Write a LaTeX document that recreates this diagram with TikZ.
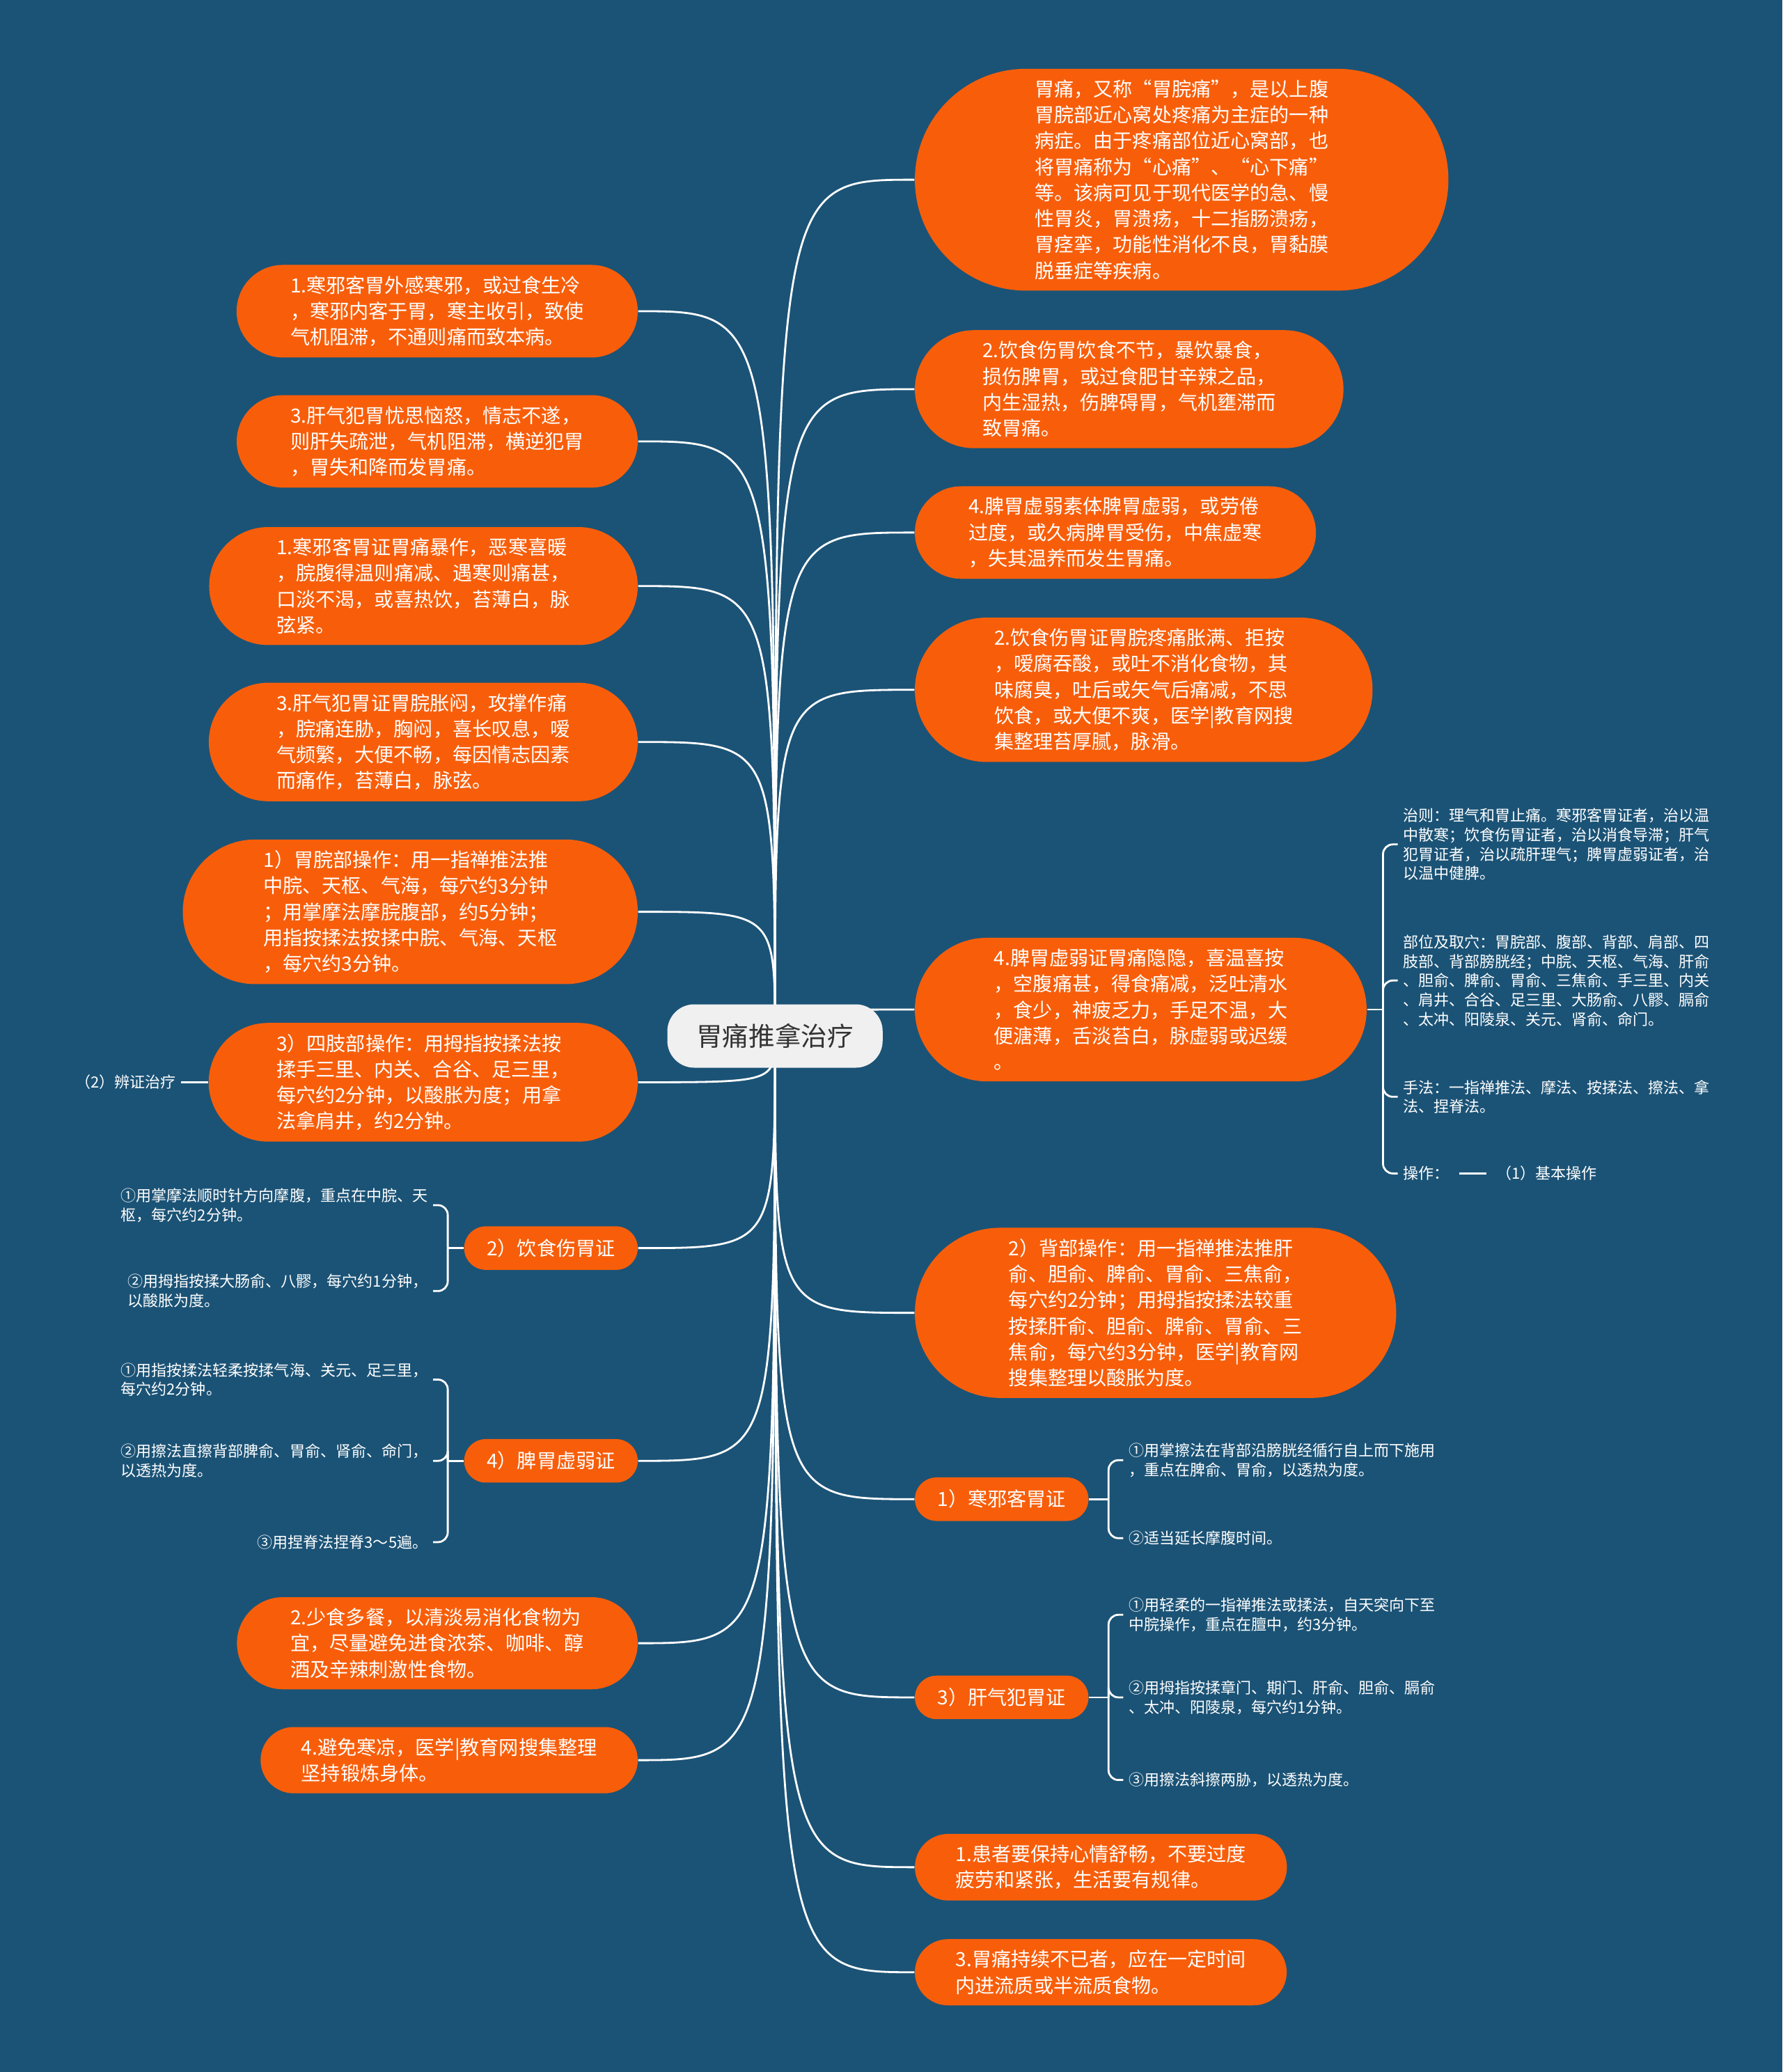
\documentclass[tikz,border=0pt]{standalone}
\usepackage{fontspec}
\setmainfont{Noto Sans CJK SC}
\usetikzlibrary{positioning, shapes.misc, backgrounds}

\definecolor{mapblue}{HTML}{1B5376}
\definecolor{maporange}{HTML}{F85E0A}
\definecolor{rootgray}{HTML}{F0F0F0}
\definecolor{rootink}{HTML}{333333}

\begin{document}
\begin{tikzpicture}[
    x=0.018977cm, y=-0.018977cm,
    root/.style={rectangle, rounded corners=11pt, fill=rootgray, text=rootink,
        font=\fontsize{10.7}{13}\selectfont, minimum width=88pt, minimum height=25.9pt},
    bubble/.style={rounded rectangle, fill=maporange, text=white, align=left,
        font=\fontsize{8}{10.6}\selectfont, inner xsep=#1, inner ysep=4.5pt},
    bubble/.default=15.3pt,
    topic/.style={bubble=8.4pt, minimum height=17.8pt},
    leaf/.style={text=white, align=left, font=\fontsize{6.27}{7.9}\selectfont,
        inner xsep=2pt, inner ysep=1pt},
    link/.style={draw=white, line width=0.8pt},
    fork/.style={link, rounded corners=4pt}
]
\useasboundingbox (0,0) rectangle (1349,1568);

\node[root] (root) at (586.5,784) {胃痛推拿治疗};

\node[bubble, anchor=east] (l1) at (483,235.5) {1.寒邪客胃外感寒邪，或过食生冷\\，寒邪内客于胃，寒主收引，致使\\气机阻滞，不通则痛而致本病。};
\node[bubble, anchor=east] (l2) at (483,334) {3.肝气犯胃忧思恼怒，情志不遂，\\则肝失疏泄，气机阻滞，横逆犯胃\\，胃失和降而发胃痛。};
\node[bubble=17.5pt, anchor=east] (l3) at (483,443.5) {1.寒邪客胃证胃痛暴作，恶寒喜暖\\，脘腹得温则痛减、遇寒则痛甚，\\口淡不渴，或喜热饮，苔薄白，脉\\弦紧。};
\node[bubble=17.5pt, anchor=east] (l4) at (483,561.5) {3.肝气犯胃证胃脘胀闷，攻撑作痛\\，脘痛连胁，胸闷，喜长叹息，嗳\\气频繁，大便不畅，每因情志因素\\而痛作，苔薄白，脉弦。};
\node[bubble=19.1pt, anchor=east] (l5) at (483,690) {1）胃脘部操作：用一指禅推法推\\中脘、天枢、气海，每穴约3分钟\\；用掌摩法摩脘腹部，约5分钟；\\用指按揉法按揉中脘、气海、天枢\\，每穴约3分钟。};
\node[bubble=17.5pt, anchor=east] (l6) at (483,819) {3）四肢部操作：用拇指按揉法按\\揉手三里、内关、合谷、足三里，\\每穴约2分钟，以酸胀为度；用拿\\法拿肩井，约2分钟。};
\node[topic, anchor=east] (l7) at (483,944.5) {2）饮食伤胃证};
\node[topic, anchor=east] (l8) at (483,1105.5) {4）脾胃虚弱证};
\node[bubble, anchor=east] (l9) at (483,1243.5) {2.少食多餐，以清淡易消化食物为\\宜，尽量避免进食浓茶、咖啡、醇\\酒及辛辣刺激性食物。};
\node[bubble=13.2pt, anchor=east] (l10) at (483,1332) {4.避免寒凉，医学|教育网搜集整理\\坚持锻炼身体。};

\node[bubble=23.4pt, anchor=west] (r1) at (692,136) {胃痛，又称“胃脘痛”，是以上腹\\胃脘部近心窝处疼痛为主症的一种\\病症。由于疼痛部位近心窝部，也\\将胃痛称为“心痛”、“心下痛”\\等。该病可见于现代医学的急、慢\\性胃炎，胃溃疡，十二指肠溃疡，\\胃痉挛，功能性消化不良，胃黏膜\\脱垂症等疾病。};
\node[bubble=17.5pt, anchor=west] (r2) at (692,294.5) {2.饮食伤胃饮食不节，暴饮暴食，\\损伤脾胃，或过食肥甘辛辣之品，\\内生湿热，伤脾碍胃，气机壅滞而\\致胃痛。};
\node[bubble, anchor=west] (r3) at (692,403) {4.脾胃虚弱素体脾胃虚弱，或劳倦\\过度，或久病脾胃受伤，中焦虚寒\\，失其温养而发生胃痛。};
\node[bubble=18.6pt, anchor=west] (r4) at (692,522) {2.饮食伤胃证胃脘疼痛胀满、拒按\\，嗳腐吞酸，或吐不消化食物，其\\味腐臭，吐后或矢气后痛减，不思\\饮食，或大便不爽，医学|教育网搜\\集整理苔厚腻，脉滑。};
\node[bubble=18.6pt, anchor=west] (r5) at (692,764) {4.脾胃虚弱证胃痛隐隐，喜温喜按\\，空腹痛甚，得食痛减，泛吐清水\\，食少，神疲乏力，手足不温，大\\便溏薄，舌淡苔白，脉虚弱或迟缓\\。};
\node[bubble=20.7pt, anchor=west] (r6) at (692,993.5) {2）背部操作：用一指禅推法推肝\\俞、胆俞、脾俞、胃俞、三焦俞，\\每穴约2分钟；用拇指按揉法较重\\按揉肝俞、胆俞、脾俞、胃俞、三\\焦俞，每穴约3分钟，医学|教育网\\搜集整理以酸胀为度。};
\node[topic, anchor=west] (r7) at (692,1134.5) {1）寒邪客胃证};
\node[topic, anchor=west] (r8) at (692,1284.5) {3）肝气犯胃证};
\node[bubble=13.2pt, anchor=west] (r9) at (692,1413) {1.患者要保持心情舒畅，不要过度\\疲劳和紧张，生活要有规律。};
\node[bubble=13.2pt, anchor=west] (r10) at (692,1492.5) {3.胃痛持续不已者，应在一定时间\\内进流质或半流质食物。};

\node[leaf, left=11pt of l6] (diag) {（2）辨证治疗};

\coordinate (j7) at ([xshift=-6.5pt]l7.west);
\node[leaf, anchor=east, xshift=-6pt] (l7a) at (j7 |- 0,912) {①用掌摩法顺时针方向摩腹，重点在中脘、天\\枢，每穴约2分钟。};
\node[leaf, anchor=east, xshift=-6pt] (l7b) at (j7 |- 0,977) {②用拇指按揉大肠俞、八髎，每穴约1分钟，\\以酸胀为度。};

\coordinate (j8) at ([xshift=-6.5pt]l8.west);
\node[leaf, anchor=east, xshift=-6pt] (l8a) at (j8 |- 0,1044) {①用指按揉法轻柔按揉气海、关元、足三里，\\每穴约2分钟。};
\node[leaf, anchor=east, xshift=-6pt] (l8b) at (j8 |- 0,1105.5) {②用擦法直擦背部脾俞、胃俞、肾俞、命门，\\以透热为度。};
\node[leaf, anchor=east, xshift=-6pt] (l8c) at (j8 |- 0,1167) {③用捏脊法捏脊3～5遍。};

\coordinate (j5) at ([xshift=6.5pt]r5.east);
\node[leaf, anchor=west, xshift=6pt] (rule) at (j5 |- 0,639) {治则：理气和胃止痛。寒邪客胃证者，治以温\\中散寒；饮食伤胃证者，治以消食导滞；肝气\\犯胃证者，治以疏肝理气；脾胃虚弱证者，治\\以温中健脾。};
\node[leaf, anchor=west, xshift=6pt] (acu) at (j5 |- 0,742) {部位及取穴：胃脘部、腹部、背部、肩部、四\\肢部、背部膀胱经；中脘、天枢、气海、肝俞\\、胆俞、脾俞、胃俞、三焦俞、手三里、内关\\、肩井、合谷、足三里、大肠俞、八髎、膈俞\\、太冲、阳陵泉、关元、肾俞、命门。};
\node[leaf, anchor=west, xshift=6pt] (tech) at (j5 |- 0,830) {手法：一指禅推法、摩法、按揉法、擦法、拿\\法、捏脊法。};
\node[leaf, anchor=west, xshift=6pt] (op) at (j5 |- 0,888) {操作：};
\node[leaf, right=15pt of op] (basic) {（1）基本操作};

\coordinate (j7r) at ([xshift=8pt]r7.east);
\node[leaf, anchor=west, xshift=6pt] (r7a) at (j7r |- 0,1105) {①用掌擦法在背部沿膀胱经循行自上而下施用\\，重点在脾俞、胃俞，以透热为度。};
\node[leaf, anchor=west, xshift=6pt] (r7b) at (j7r |- 0,1164) {②适当延长摩腹时间。};

\coordinate (j8r) at ([xshift=8pt]r8.east);
\node[leaf, anchor=west, xshift=6pt] (r8a) at (j8r |- 0,1222) {①用轻柔的一指禅推法或揉法，自天突向下至\\中脘操作，重点在膻中，约3分钟。};
\node[leaf, anchor=west, xshift=6pt] (r8b) at (j8r |- 0,1284.5) {②用拇指按揉章门、期门、肝俞、胆俞、膈俞\\、太冲、阳陵泉，每穴约1分钟。};
\node[leaf, anchor=west, xshift=6pt] (r8c) at (j8r |- 0,1347) {③用擦法斜擦两胁，以透热为度。};

\begin{scope}[on background layer]
\fill[mapblue] (0,0) rectangle (1349,1568);
\foreach \i in {1,...,10} {
    \draw[link] (root.center) .. controls (root.center |- l\i.east) .. (l\i.east);
    \draw[link] (root.center) .. controls (root.center |- r\i.west) .. (r\i.west);
}
\draw[link] (diag) -- (l6);
\draw[link] (l7.west) -- (j7);
\draw[link] (l8.west) -- (j8);
\draw[link] (r5.east) -- (j5);
\draw[link] (r7.east) -- (j7r);
\draw[link] (r8.east) -- (j8r);
\foreach \c in {l7a,l7b} \draw[fork] (j7) |- (\c.east);
\foreach \c in {l8a,l8b,l8c} \draw[fork] (j8) |- (\c.east);
\foreach \c in {rule,acu,tech,op} \draw[fork] (j5) |- (\c.west);
\foreach \c in {r7a,r7b} \draw[fork] (j7r) |- (\c.west);
\foreach \c in {r8a,r8b,r8c} \draw[fork] (j8r) |- (\c.west);
\draw[link, shorten <=2pt, shorten >=2pt] (op) -- (basic);
\end{scope}
\end{tikzpicture}
\end{document}
